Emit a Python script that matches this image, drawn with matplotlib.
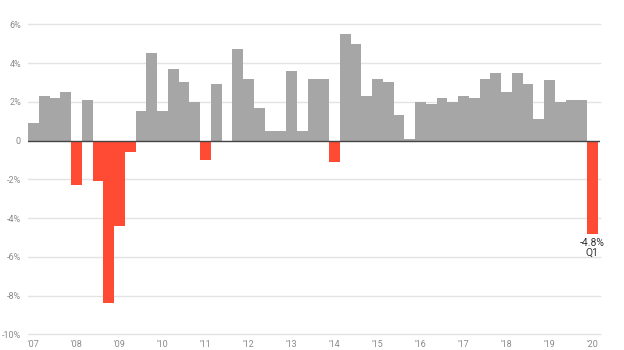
import matplotlib
matplotlib.use('Agg')
import matplotlib.pyplot as plt

# quarterly growth, annualized %, 2007 Q1 .. 2020 Q1
years = ["'07", "'08", "'09", "'10", "'11", "'12", "'13", "'14",
         "'15", "'16", "'17", "'18", "'19", "'20"]
growth = [0.9, 2.3, 2.2, 2.5,
          -2.3, 2.1, -2.1, -8.4,
          -4.4, -0.6, 1.5, 4.5,
          1.5, 3.7, 3.0, 2.0,
          -1.0, 2.9, -0.1, 4.7,
          3.2, 1.7, 0.5, 0.5,
          3.6, 0.5, 3.2, 3.2,
          -1.1, 5.5, 5.0, 2.3,
          3.2, 3.0, 1.3, 0.1,
          2.0, 1.9, 2.2, 2.0,
          2.3, 2.2, 3.2, 3.5,
          2.5, 3.5, 2.9, 1.1,
          3.1, 2.0, 2.1, 2.1,
          -4.8]
yticks = [-10, -8, -6, -4, -2, 0, 2, 4, 6]
ytick_labels = ["-10%", "-8%", "-6%", "-4%", "-2%", "0", "2%", "4%", "6%"]

plt.rcParams['font.family'] = ['Roboto', 'DejaVu Sans']

GRAY = '#a6a6a6'
RED = '#ff4b33'

fig = plt.figure(figsize=(6.24, 3.5), dpi=100)
ax = fig.add_axes([28/624, 1 - 334.3/350, 572/624, (334.3 - 24.3)/350])

xs = list(range(len(growth)))
colors = [RED if v < 0 else GRAY for v in growth]
ax.bar(xs, growth, width=1.0, color=colors, linewidth=0, zorder=2)

ax.set_ylim(-10, 6)
ax.set_xlim(-0.5, 52.7)
ax.set_yticks(yticks)
ax.set_yticklabels(ytick_labels)
ax.set_xticks([i * 4 for i in range(len(years))])
ax.set_xticklabels(years)

for y in yticks:
    if y != 0:
        ax.axhline(y, color='#e3e3e3', linewidth=1.0, zorder=1, clip_on=False)
ax.axhline(0, color='#444444', linewidth=1.0, zorder=3)

for s in ax.spines.values():
    s.set_visible(False)
ax.tick_params(axis='both', length=0, labelsize=6.5, colors='#8a8a8a')
ax.tick_params(axis='y', pad=5)
ax.tick_params(axis='x', pad=4)

last = len(growth) - 1
ax.annotate("%.1f%%\nQ1" % growth[last], xy=(last, growth[last]),
            xytext=(0, -3), textcoords='offset points',
            ha='center', va='top', fontsize=7.5, color='#333333',
            linespacing=0.95)

plt.savefig("out.png", dpi=100)
